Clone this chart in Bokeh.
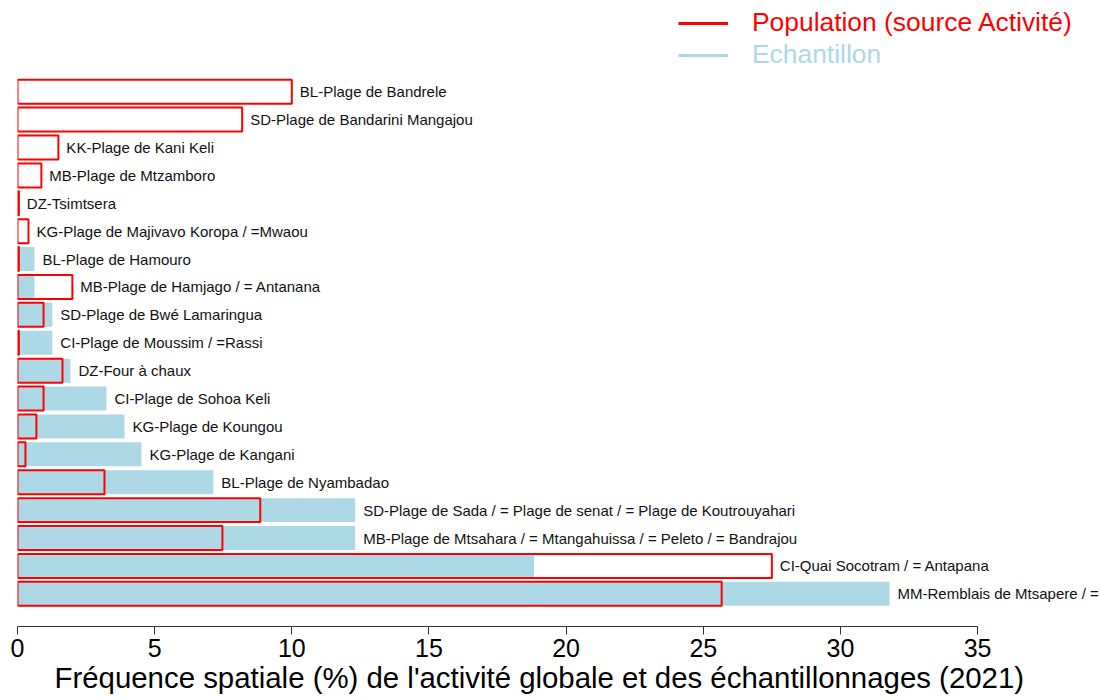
import numpy as np
from bokeh.plotting import figure
from bokeh.models import Range1d, FixedTicker, Legend, LegendItem, ColumnDataSource, Title
from bokeh.core.properties import value
from bokeh.embed import file_html
from bokeh.resources import INLINE

# Sites, top to bottom
sites = [
    "BL-Plage de Bandrele",
    "SD-Plage de Bandarini Mangajou",
    "KK-Plage de Kani Keli",
    "MB-Plage de Mtzamboro",
    "DZ-Tsimtsera",
    "KG-Plage de Majivavo Koropa / =Mwaou",
    "BL-Plage de Hamouro",
    "MB-Plage de Hamjago / = Antanana",
    "SD-Plage de Bwé Lamaringua",
    "CI-Plage de Moussim / =Rassi",
    "DZ-Four à chaux",
    "CI-Plage de Sohoa Keli",
    "KG-Plage de Koungou",
    "KG-Plage de Kangani",
    "BL-Plage de Nyambadao",
    "SD-Plage de Sada / = Plage de senat / = Plage de Koutrouyahari",
    "MB-Plage de Mtsahara / = Mtangahuissa / = Peleto / = Bandrajou",
    "CI-Quai Socotram / = Antapana",
    "MM-Remblais de Mtsapere / =",
]
# Echantillon (%)
echantillon = [0.0, 0.0, 0.0, 0.0, 0.0, 0.0, 0.62, 0.62, 1.27, 1.27, 1.93,
               3.24, 3.90, 4.52, 7.14, 12.31, 12.31, 18.83, 31.79]
# Population, source Activité (%)
population = [10.0, 8.19, 1.49, 0.87, 0.05, 0.40, 0.05, 2.0, 0.95, 0.05, 1.64,
              0.95, 0.69, 0.29, 3.17, 8.85, 7.47, 27.5, 25.67]
x_ticks = [0, 5, 10, 15, 20, 25, 30, 35]
x_title = "Fréquence spatiale (%) de l'activité globale et des échantillonnages (2021)"
legend_labels = ["Population (source Activité)", "Echantillon"]

RED = "#FF0000"
BLUE = "#ADD8E6"
FONT = "Liberation Sans"

n = len(sites)
ypos = np.arange(n, 0, -1)
src = ColumnDataSource(dict(
    y=ypos, site=sites, ech=echantillon, pop=population,
    lx=np.maximum(np.array(echantillon), np.array(population)),
))

W, H = 1100, 700
LEFT = 17
BOTTOM = 74
p = figure(width=W, height=H, output_backend="svg", toolbar_location=None,
           x_range=Range1d(0, 39.48), y_range=Range1d(-0.172, 22.27),
           min_border_left=LEFT, min_border_right=0, min_border_top=0,
           min_border_bottom=BOTTOM)
p.outline_line_color = None
p.grid.visible = False
p.yaxis.visible = False

p.hbar(y="y", right="ech", left=0, height=0.86, source=src,
       fill_color=BLUE, line_color=None)
p.hbar(y="y", right="pop", left=0, height=0.86, source=src,
       fill_color=None, line_color=RED, line_width=2)
p.text(x="lx", y="y", text="site", source=src, x_offset=8,
       text_font=value(FONT), text_font_size="15px", text_color="#111111",
       text_baseline="middle", text_align="left")

ax = p.xaxis[0]
ax.ticker = FixedTicker(ticks=x_ticks)
ax.bounds = (x_ticks[0], x_ticks[-1])
ax.major_label_overrides = {t: str(t) for t in x_ticks}
ax.major_tick_in = 0
ax.major_tick_out = 8
ax.minor_tick_line_color = None
ax.axis_line_color = "#333333"
ax.major_tick_line_color = "#333333"
ax.major_label_text_font = FONT
ax.major_label_text_font_size = "25px"
ax.major_label_text_color = "black"
ax.major_label_standoff = 4

# axis title, placed as in the reference
p.add_layout(Title(text=x_title, align="left", offset=37, standoff=-2,
                   text_font=FONT, text_font_size="29.4px",
                   text_font_style="normal", text_color="black"), "below")

frame_h = H - BOTTOM
# Legends (one per entry so each label keeps its own colour)
r_pop = p.line(x=[np.nan], y=[np.nan], line_color=RED, line_width=3)
r_ech = p.line(x=[np.nan], y=[np.nan], line_color=BLUE, line_width=3)
for r, lab, col, bottom in [(r_pop, legend_labels[0], RED, 38), (r_ech, legend_labels[1], BLUE, 70)]:
    lg = Legend(items=[LegendItem(label=lab, renderers=[r])],
                location=(661, frame_h - bottom),
                label_text_font=FONT, label_text_font_size="26.4px",
                label_text_color=col, label_height=28, glyph_height=28,
                glyph_width=50, label_standoff=24, padding=0, margin=0,
                spacing=0, border_line_color=None, background_fill_alpha=0)
    p.add_layout(lg, "center")

open("out.html", "w").write(file_html(p, INLINE))
